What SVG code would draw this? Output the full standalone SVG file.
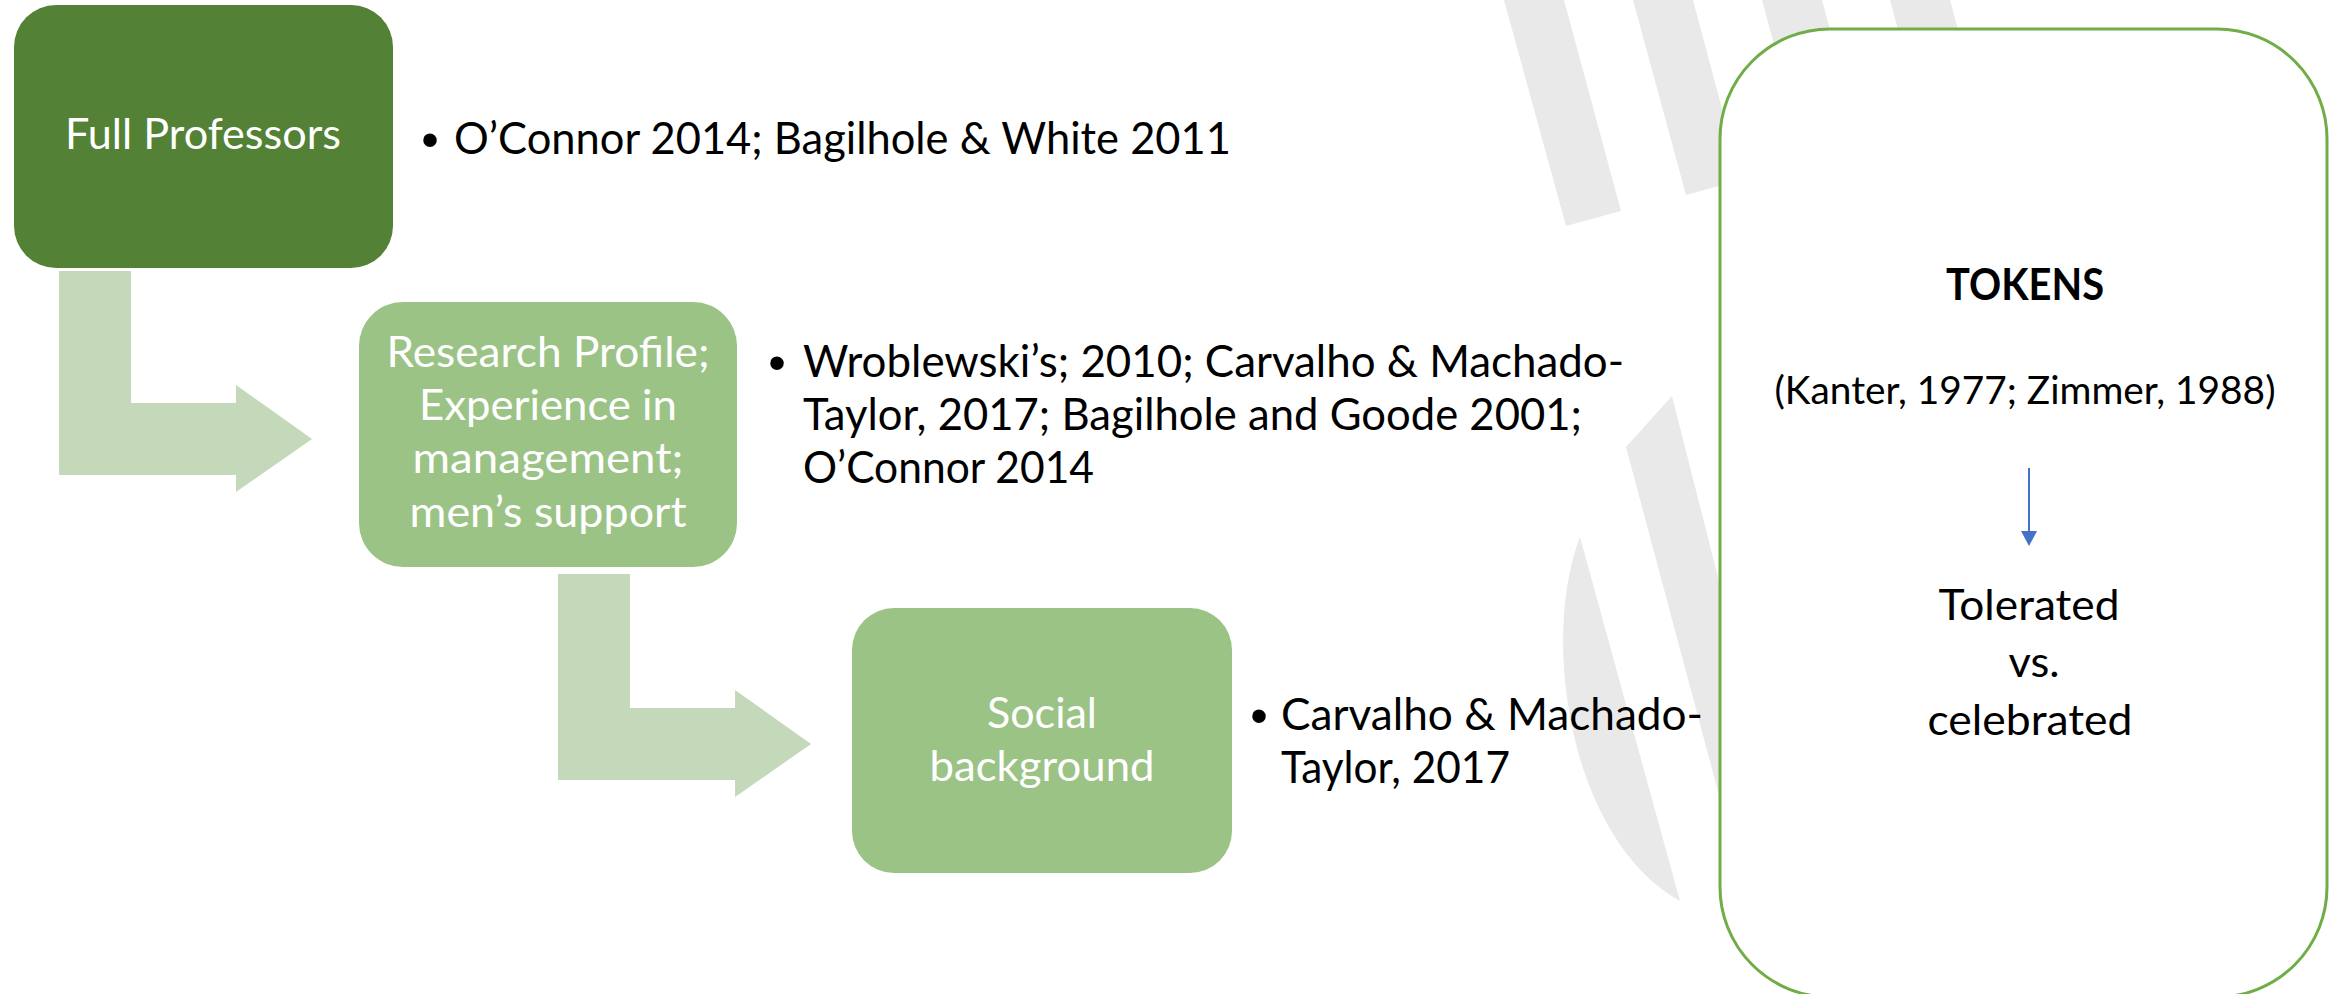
<svg xmlns="http://www.w3.org/2000/svg" width="2331" height="994" viewBox="0 0 2331 994">
  <defs>
    <style>
      .wm { fill: #E9E9E9; }
      .arrowbent { fill: #C4D8BA; }
      .box-dark { fill: #538135; }
      .box-light { fill: #9CC386; }
      .boxtxt { font-family: Lato, "Liberation Sans", sans-serif; font-size: 43px; fill: #FFFFFF; text-anchor: middle; }
      .bul { font-family: Lato, "Liberation Sans", sans-serif; font-size: 44px; fill: #000000; }
      .dot { font-family: "Liberation Sans", Arial, sans-serif; font-size: 50px; fill: #000000; text-anchor: middle; }
      .tok { font-family: Lato, "Liberation Sans", sans-serif; font-size: 43px; fill: #000000; text-anchor: middle; }
      .tokb { font-weight: bold; }
      .cite { font-size: 38px; }
    </style>
    <marker id="blueHead" markerWidth="15" markerHeight="16" refX="0" refY="8" orient="auto" markerUnits="userSpaceOnUse" viewBox="0 0 15 16">
      <path d="M0,0 L15,8 L0,16 Z" fill="#4472C4"/>
    </marker>
  </defs>

  <rect x="0" y="0" width="2331" height="994" fill="#FFFFFF"/>

  <g id="watermark">
    <polygon class="wm" points="1504,0 1564,0 1621,211 1566,226"/>
    <polygon class="wm" points="1633,0 1693,0 1741,180 1686,195"/>
    <polygon class="wm" points="1762,0 1822,0 1849,100 1789,100"/>
    <polygon class="wm" points="1890,0 1950,0 1977,100 1917,100"/>
    <polygon class="wm" points="1626,447 1672,396 1800,900 1747,900"/>
    <path class="wm" d="M1580,537 C1540,640 1570,840 1680,901 Z"/>
  </g>

  <g id="connectors">
    <polygon class="arrowbent" points="59,271 131,271 131,403 236,403 236,385 312,439 236,492 236,475 59,475"/>
    <polygon class="arrowbent" points="558,574 630,574 630,708 735,708 735,690 811,744 735,797 735,780 558,780"/>
  </g>

  <g id="node-full-professors">
    <rect class="box-dark" x="14" y="5" width="379" height="263" rx="42" ry="42"/>
    <text class="boxtxt" x="203" y="149" textLength="276" lengthAdjust="spacingAndGlyphs">Full Professors</text>
  </g>

  <g id="note-full-professors">
    <text class="dot" x="430" y="157">•</text>
    <text class="bul" x="454" y="154" textLength="777" lengthAdjust="spacingAndGlyphs">O’Connor 2014; Bagilhole &amp; White 2011</text>
  </g>

  <g id="node-research-profile">
    <rect class="box-light" x="359" y="302" width="378" height="265" rx="44" ry="44"/>
    <text class="boxtxt" x="548" y="367" textLength="323" lengthAdjust="spacingAndGlyphs">Research Profile;</text>
    <text class="boxtxt" x="548" y="420" textLength="258" lengthAdjust="spacingAndGlyphs">Experience in</text>
    <text class="boxtxt" x="548" y="473" textLength="271" lengthAdjust="spacingAndGlyphs">management;</text>
    <text class="boxtxt" x="548" y="527" textLength="277" lengthAdjust="spacingAndGlyphs">men’s support</text>
  </g>

  <g id="note-research-profile">
    <text class="dot" x="777" y="380">•</text>
    <text class="bul" x="803" y="377" textLength="821" lengthAdjust="spacingAndGlyphs">Wroblewski’s; 2010; Carvalho &amp; Machado-</text>
    <text class="bul" x="803" y="430" textLength="779" lengthAdjust="spacingAndGlyphs">Taylor, 2017; Bagilhole and Goode 2001;</text>
    <text class="bul" x="803" y="483" textLength="291" lengthAdjust="spacingAndGlyphs">O’Connor 2014</text>
  </g>

  <g id="node-social-background">
    <rect class="box-light" x="852" y="608" width="380" height="265" rx="42" ry="42"/>
    <text class="boxtxt" x="1042" y="728" textLength="110" lengthAdjust="spacingAndGlyphs">Social</text>
    <text class="boxtxt" x="1042" y="781" textLength="225" lengthAdjust="spacingAndGlyphs">background</text>
  </g>

  <g id="note-social-background">
    <text class="dot" x="1259" y="733">•</text>
    <text class="bul" x="1281" y="730" textLength="422" lengthAdjust="spacingAndGlyphs">Carvalho &amp; Machado-</text>
    <text class="bul" x="1281" y="783" textLength="229" lengthAdjust="spacingAndGlyphs">Taylor, 2017</text>
  </g>

  <g id="node-tokens">
    <rect x="1720" y="29" width="607" height="968" rx="110" ry="110" fill="#FFFFFF" stroke="#70AD47" stroke-width="3"/>
    <text class="tok tokb" x="2025" y="300" textLength="158" lengthAdjust="spacingAndGlyphs">TOKENS</text>
    <text class="tok cite" x="2025" y="404" textLength="501" lengthAdjust="spacingAndGlyphs">(Kanter, 1977; Zimmer, 1988)</text>
    <text class="tok" x="2029" y="620" textLength="181" lengthAdjust="spacingAndGlyphs">Tolerated</text>
    <text class="tok" x="2034" y="677" textLength="51" lengthAdjust="spacingAndGlyphs">vs.</text>
    <text class="tok" x="2030" y="735" textLength="205" lengthAdjust="spacingAndGlyphs">celebrated</text>
  </g>

  <g id="connector-tokens">
    <line x1="2029" y1="468" x2="2029" y2="531" stroke="#4472C4" stroke-width="2" marker-end="url(#blueHead)"/>
  </g>
</svg>
